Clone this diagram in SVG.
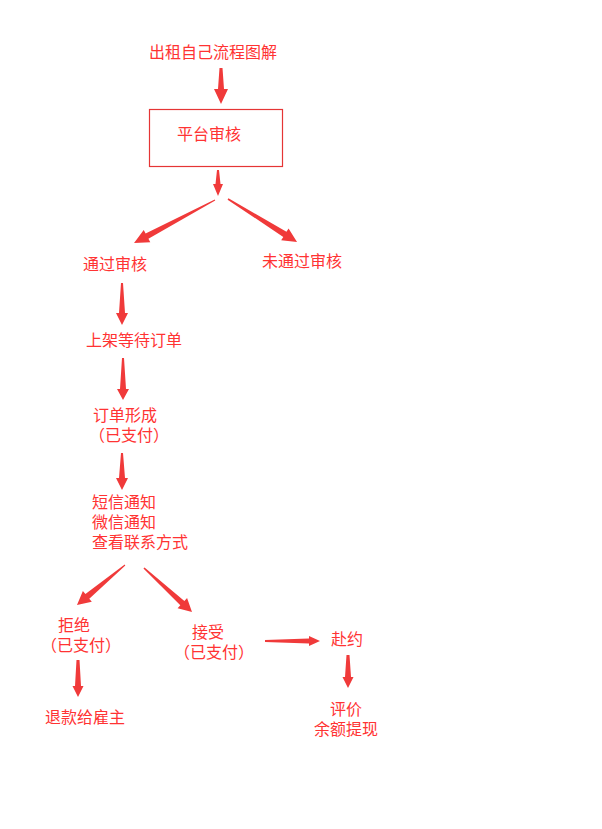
<svg xmlns="http://www.w3.org/2000/svg" width="602" height="829" viewBox="0 0 602 829">
<style>
text{font-family:"Noto Sans CJK SC","Liberation Sans",sans-serif;font-size:16px;fill:#ff3333}
.a{fill:#f03a3a}
.box{fill:#fff;stroke:#e53535;stroke-width:1.2}
</style>
<rect width="602" height="829" fill="#fff"/>
<g id="connectors">
<polygon class="a" transform="translate(221,68) rotate(90)" points="0,-1.5 21,-3 21,-7 36,0 21,7 21,3 0,1.5"/>
<polygon class="a" transform="translate(218,170) rotate(90)" points="0,-1 14,-2.5 14,-5 26,0 14,5 14,2.5 0,1"/>
<polygon class="a" transform="translate(215,200) rotate(152)" points="0,-0.5 77,-3 77,-7 91.7,0 77,7 77,3 0,0.5"/>
<polygon class="a" transform="translate(228,199) rotate(31.9)" points="0,-0.8 67,-3 67,-7 81.3,0 67,7 67,3 0,0.8"/>
<polygon class="a" transform="translate(122,283) rotate(90)" points="0,-1 30,-3 30,-6 42,0 30,6 30,3 0,1"/>
<polygon class="a" transform="translate(123,358) rotate(90)" points="0,-1 31,-3 31,-6 42,0 31,6 31,3 0,1"/>
<polygon class="a" transform="translate(122,453) rotate(90)" points="0,-1 25,-3 25,-6 37,0 25,6 25,3 0,1"/>
<polygon class="a" transform="translate(125,565) rotate(140.2)" points="0,-0.5 49,-3 49,-7 62.5,0 49,7 49,3 0,0.5"/>
<polygon class="a" transform="translate(144,568) rotate(42.5)" points="0,-0.8 52,-3 52,-7 65.1,0 52,7 52,3 0,0.8"/>
<polygon class="a" transform="translate(78,660) rotate(90)" points="0,-1.5 26,-3 26,-5.5 37,0 26,5.5 26,3 0,1.5"/>
<polygon class="a" transform="translate(265,641)" points="0,-1 44,-2.5 44,-5 55,0 44,5 44,2.5 0,1"/>
<polygon class="a" transform="translate(348,655) rotate(90)" points="0,-1.5 22,-3 22,-5.5 33,0 22,5.5 22,3 0,1.5"/>
</g>
<g id="title"><text x="149" y="58">出租自己流程图解</text></g>
<g id="platform-review"><rect class="box" x="149.5" y="109.5" width="133" height="57"/><text x="177" y="140">平台审核</text></g>
<g id="passed"><text x="83" y="270">通过审核</text></g>
<g id="not-passed"><text x="262" y="267">未通过审核</text></g>
<g id="listed"><text x="86" y="346">上架等待订单</text></g>
<g id="order-formed"><text x="93" y="421">订单形成<tspan x="89" dy="20">（已支付）</tspan></text></g>
<g id="notify"><text x="92" y="508">短信通知<tspan x="92" dy="20">微信通知</tspan><tspan x="92" dy="20">查看联系方式</tspan></text></g>
<g id="reject"><text x="58" y="631">拒绝<tspan x="41" dy="20">（已支付）</tspan></text></g>
<g id="accept"><text x="192" y="638">接受<tspan x="174" dy="20">（已支付）</tspan></text></g>
<g id="appointment"><text x="331" y="645">赴约</text></g>
<g id="review"><text x="330" y="715">评价<tspan x="314" dy="20">余额提现</tspan></text></g>
<g id="refund"><text x="45" y="723">退款给雇主</text></g>
</svg>
